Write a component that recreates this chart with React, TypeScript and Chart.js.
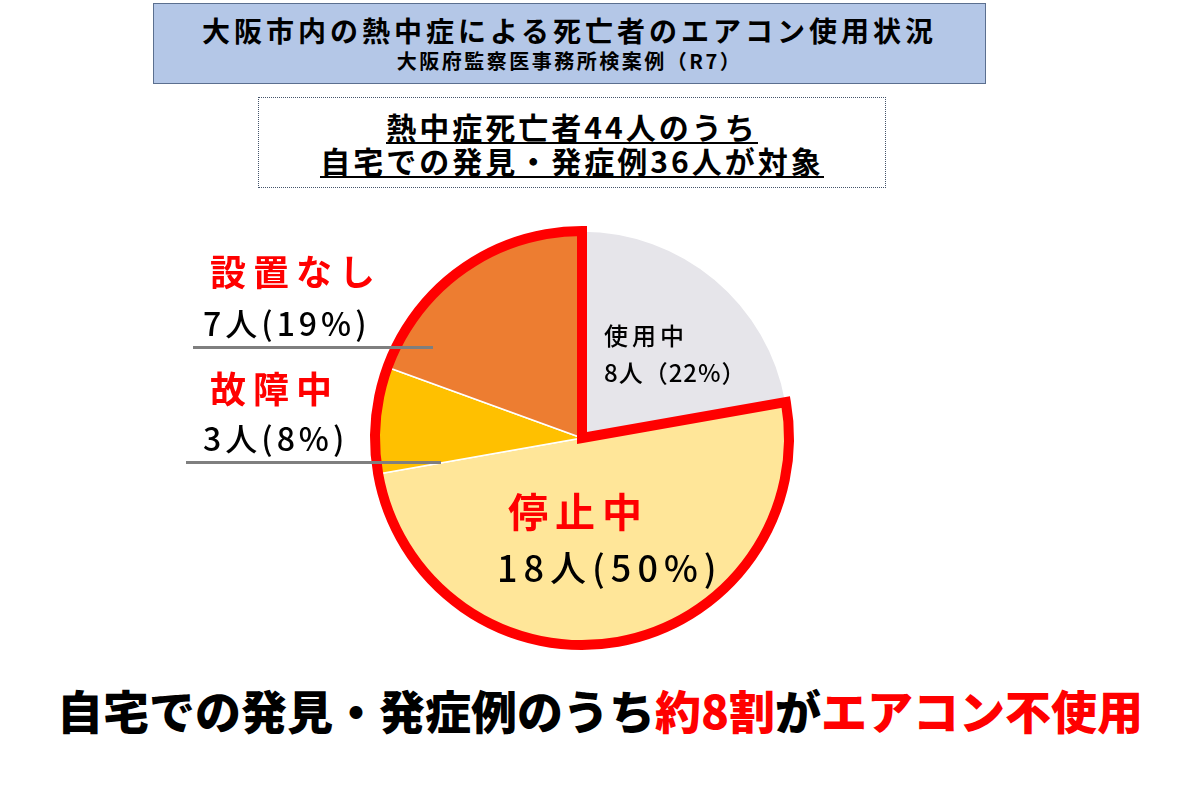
import React, { useEffect, useRef } from "react";
import { Chart, registerables } from "chart.js";

Chart.register(...registerables);

const categories = ["使用中", "停止中", "故障中", "設置なし"];
const counts = [8, 18, 3, 7];
const percents = [22, 50, 8, 19];
const sliceColors = ["#E6E5EA", "#FFE699", "#FFC000", "#ED7D31"];
const unusedIdx = [1, 2, 3];

const titleMain = "大阪市内の熱中症による死亡者のエアコン使用状況";
const titleSub = "大阪府監察医事務所検案例（R7）";
const noteLine1 = "熱中症死亡者44人のうち";
const noteLine2 = "自宅での発見・発症例36人が対象";

const FONT = '"Noto Sans CJK JP", "Noto Sans", sans-serif';

const outlinePlugin = {
  id: "unusedOutline",
  afterDatasetsDraw(chart: any) {
    const meta = chart.getDatasetMeta(0);
    const first = meta.data[unusedIdx[0]];
    const last = meta.data[unusedIdx[unusedIdx.length - 1]];
    if (!first || !last) return;
    const { x, y, outerRadius } = first.getProps(["x", "y", "outerRadius"], true);
    const start = first.getProps(["startAngle"], true).startAngle;
    const end = last.getProps(["endAngle"], true).endAngle;
    const ctx = chart.ctx;
    ctx.save();
    ctx.beginPath();
    ctx.moveTo(x, y);
    ctx.lineTo(x + Math.cos(start) * outerRadius, y + Math.sin(start) * outerRadius);
    ctx.arc(x, y, outerRadius, start, end);
    ctx.closePath();
    ctx.lineWidth = 10;
    ctx.lineJoin = "miter";
    ctx.strokeStyle = "#FF0000";
    ctx.stroke();
    ctx.restore();
  },
};

function PieChart() {
  const ref = useRef<HTMLCanvasElement>(null);
  useEffect(() => {
    if (!ref.current) return;
    const chart = new Chart(ref.current, {
      type: "pie",
      data: {
        labels: categories,
        datasets: [
          {
            data: counts,
            backgroundColor: sliceColors,
            borderColor: "#FFFFFF",
            borderWidth: 1.5,
          },
        ],
      },
      options: {
        animation: false,
        responsive: false,
        radius: 207,
        layout: { padding: 0 },
        plugins: { legend: { display: false }, tooltip: { enabled: false } },
      },
      plugins: [outlinePlugin],
    });
    return () => chart.destroy();
  }, []);
  return (
    <canvas
      ref={ref}
      width={450}
      height={450}
      style={{ position: "absolute", left: 357, top: 213, width: 450, height: 450 }}
    />
  );
}

const abs = (o: any): React.CSSProperties => ({
  position: "absolute",
  whiteSpace: "nowrap",
  lineHeight: 1,
  fontFamily: FONT,
  ...o,
});

export default function App() {
  const lbl = (i: number, paren: string) =>
    paren === "full"
      ? `${counts[i]}人（${percents[i]}%）`
      : `${counts[i]}人(${percents[i]}%)`;
  return (
    <div
      style={{
        position: "fixed",
        left: 0,
        top: 0,
        width: 1200,
        height: 801,
        background: "#FFFFFF",
        overflow: "hidden",
        fontFamily: FONT,
      }}
    >
      {/* Title box */}
      <div
        style={{
          position: "absolute",
          left: 153,
          top: 3,
          width: 833,
          height: 81,
          boxSizing: "border-box",
          background: "#B4C7E7",
          border: "1.5px solid #5B6F8F",
        }}
      />
      <div style={abs({ left: 153, width: 833, top: 16, textAlign: "center", fontSize: 28, fontWeight: 700, letterSpacing: 4, color: "#000" })}>
        {titleMain}
      </div>
      <div style={abs({ left: 153, width: 833, top: 51, textAlign: "center", fontSize: 20, fontWeight: 700, letterSpacing: 2.5, color: "#000" })}>
        {titleSub}
      </div>

      {/* Note box */}
      <div
        style={{
          position: "absolute",
          left: 258,
          top: 97,
          width: 628,
          height: 91,
          boxSizing: "border-box",
          border: "1.5px dotted #44546A",
        }}
      />
      <div style={abs({ left: 258, width: 628, top: 111, textAlign: "center", fontSize: 30, fontWeight: 700, letterSpacing: 3, color: "#000" })}>
        <span style={{ borderBottom: "2.5px solid #000", paddingBottom: 1, display: "inline-block" }}>{noteLine1}</span>
      </div>
      <div style={abs({ left: 258, width: 628, top: 145, textAlign: "center", fontSize: 30, fontWeight: 700, letterSpacing: 3, color: "#000" })}>
        <span style={{ borderBottom: "2.5px solid #000", paddingBottom: 1, display: "inline-block" }}>{noteLine2}</span>
      </div>

      <PieChart />

      {/* Left labels */}
      <div style={abs({ left: 210, top: 252, fontSize: 36, fontWeight: 700, letterSpacing: 7, color: "#FF0000" })}>{categories[3]}</div>
      <div style={abs({ left: 203, top: 306, fontSize: 32, fontWeight: 500, letterSpacing: 4, color: "#000" })}>{lbl(3, "half")}</div>
      <div style={{ position: "absolute", left: 193, top: 346, width: 240, height: 3, background: "#7F7F7F" }} />
      <div style={abs({ left: 210, top: 369, fontSize: 36, fontWeight: 700, letterSpacing: 7, color: "#FF0000" })}>{categories[2]}</div>
      <div style={abs({ left: 203, top: 421, fontSize: 32, fontWeight: 500, letterSpacing: 4, color: "#000" })}>{lbl(2, "half")}</div>
      <div style={{ position: "absolute", left: 186, top: 461, width: 255, height: 3, background: "#7F7F7F" }} />

      {/* In-pie labels */}
      <div style={abs({ left: 604, top: 323, fontSize: 24, fontWeight: 500, letterSpacing: 4, color: "#000" })}>{categories[0]}</div>
      <div style={abs({ left: 604, top: 360, fontSize: 24, fontWeight: 500, letterSpacing: 1, color: "#000" })}>{lbl(0, "full")}</div>
      <div style={abs({ left: 508, top: 490, fontSize: 40, fontWeight: 700, letterSpacing: 7, color: "#FF0000" })}>{categories[1]}</div>
      <div style={abs({ left: 497, top: 548, fontSize: 36, fontWeight: 500, letterSpacing: 6, color: "#000" })}>{lbl(1, "half")}</div>

      {/* Bottom conclusion */}
      <div style={abs({ left: 0, width: 1200, top: 686, textAlign: "center", fontSize: 46, fontWeight: 900, color: "#000" })}>
        自宅での発見・発症例のうち<span style={{ color: "#FF0000" }}>約8割</span>が<span style={{ color: "#FF0000" }}>エアコン不使用</span>
      </div>
    </div>
  );
}
